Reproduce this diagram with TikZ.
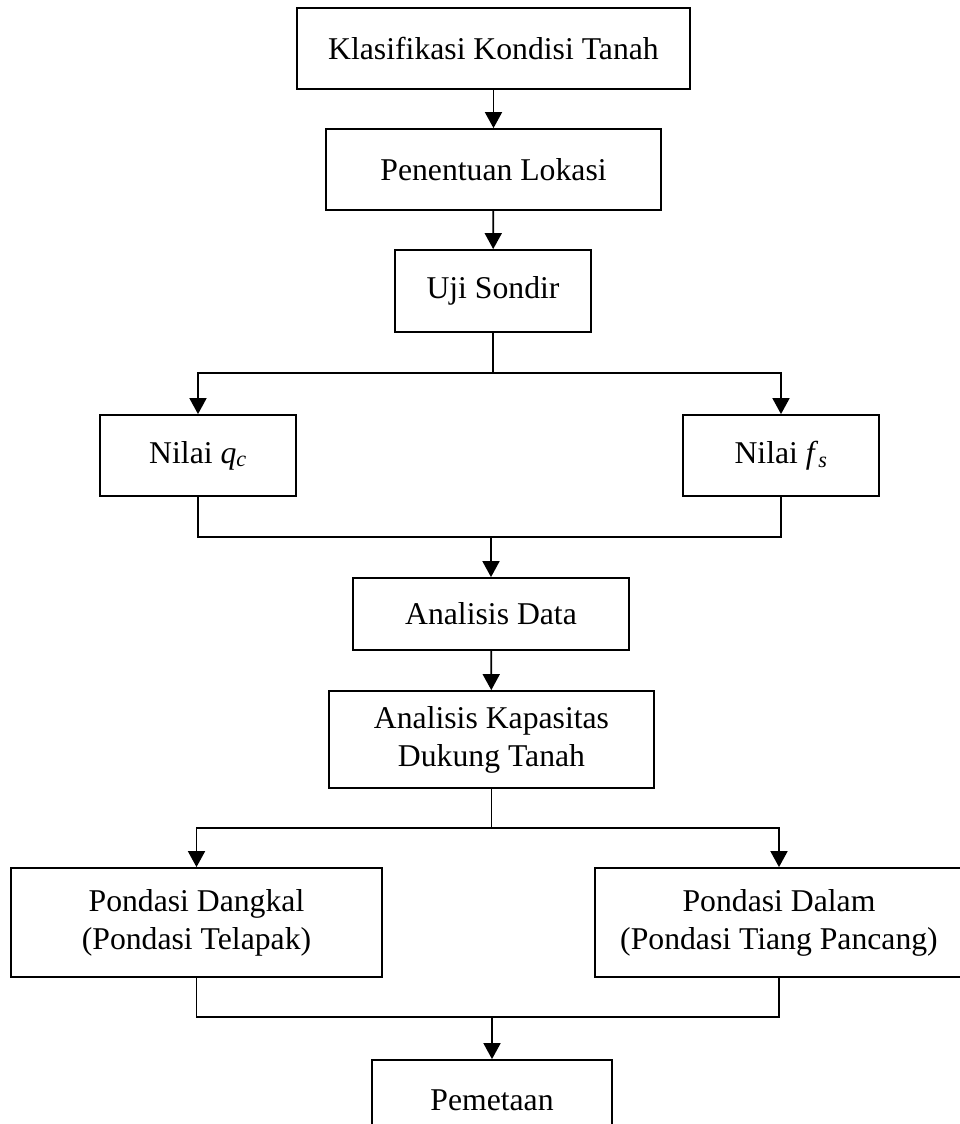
\documentclass[tikz,border=0pt]{standalone}
\usepackage{fontspec}
\setmainfont{Liberation Serif}
\usetikzlibrary{arrows.meta}

\tikzset{
  box/.style={draw, line width=1.8pt, align=center, inner sep=0pt,
    font=\fontsize{31.7}{38}\selectfont},
  link/.style={line width=1.8pt},
  flow/.style={line width=1.8pt, -{Triangle[width=17pt,length=16pt]}}
}

\begin{document}
\begin{tikzpicture}[x=1pt,y=-1pt]
\useasboundingbox (0,0) rectangle (960,1124);
% boxes
\node[box, minimum width=393pt, minimum height=81pt] (klasifikasi) at (493.5,48.5) {Klasifikasi Kondisi Tanah};
\node[box, minimum width=335pt, minimum height=81pt] (lokasi) at (493.5,169.5) {Penentuan Lokasi};
\node[box, minimum width=196pt, minimum height=82pt] (sondir) at (493,291) {Uji Sondir};
\node[box, minimum width=196pt, minimum height=81pt] (qc) at (198,455.5) {Nilai \textit{q}\textsubscript{\textit{c}}};
\node[box, minimum width=196pt, minimum height=81pt] (fs) at (781,455.5) {Nilai \textit{f}\textsubscript{\textit{s}}};
\node[box, minimum width=276pt, minimum height=72pt] (data) at (491,614) {Analisis Data};
\node[box, minimum width=325pt, minimum height=97pt] (kapasitas) at (491.5,739.5) {Analisis Kapasitas\\Dukung Tanah};
\node[box, minimum width=371pt, minimum height=109pt] (dangkal) at (196.5,922.5) {Pondasi Dangkal\\(Pondasi Telapak)};
\node[box, minimum width=368pt, minimum height=109pt] (dalam) at (779,922.5) {Pondasi Dalam\\(Pondasi Tiang Pancang)};
\node[box, minimum width=240pt, minimum height=81pt] (pemetaan) at (492,1100.5) {Pemetaan};
% junctions
\coordinate (split1) at (493,373);
\coordinate (merge1) at (491,537);
\coordinate (split2) at (491.5,828);
\coordinate (merge2) at (492,1017);
% connectors
\draw[flow] (klasifikasi) -- (lokasi);
\draw[flow] (lokasi) -- (sondir);
\draw[link] (sondir.south) -- (split1);
\draw[flow] (split1) -| (qc.north);
\draw[flow] (split1) -| (fs.north);
\draw[link] (qc.south) |- (merge1);
\draw[link] (fs.south) |- (merge1);
\draw[flow] (merge1) -- (data.north);
\draw[flow] (data) -- (kapasitas);
\draw[link] (kapasitas.south) -- (split2);
\draw[flow] (split2) -| (dangkal.north);
\draw[flow] (split2) -| (dalam.north);
\draw[link] (dangkal.south) |- (merge2);
\draw[link] (dalam.south) |- (merge2);
\draw[flow] (merge2) -- (pemetaan.north);
\end{tikzpicture}
\end{document}
